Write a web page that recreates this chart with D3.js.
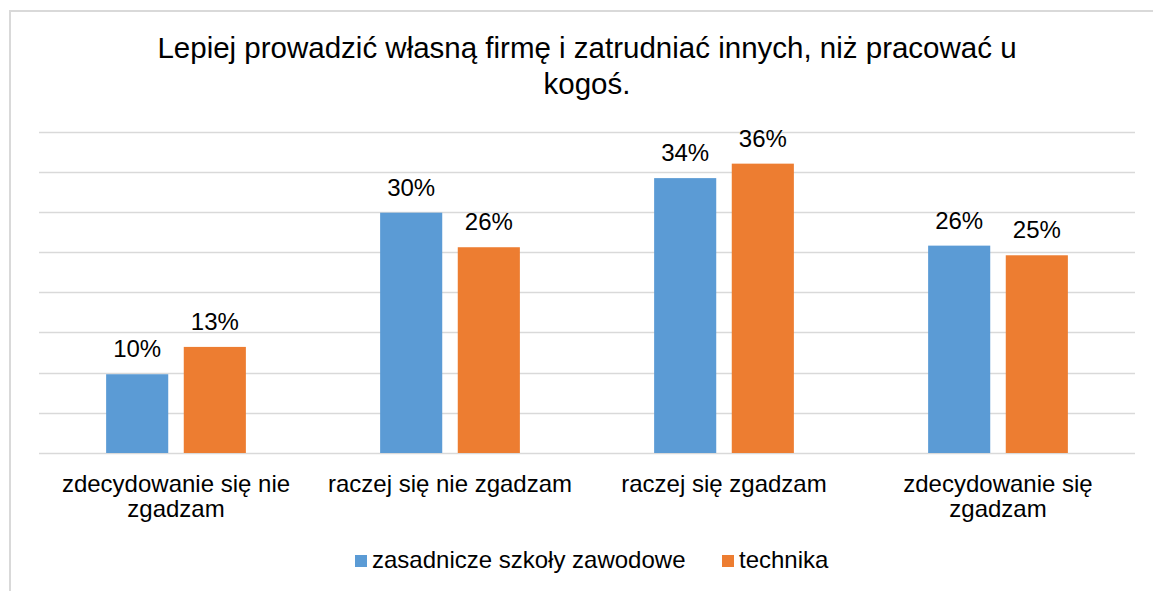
<!DOCTYPE html>
<html>
<head>
<meta charset="utf-8">
<script src="https://cdn.jsdelivr.net/npm/d3@7"></script>
<style>
  body { margin: 0; background: #fff; }
  text { font-family: "Liberation Sans", Arial, sans-serif; fill: #000; }
</style>
</head>
<body>
<div id="chart"></div>
<script>
// data
const TITLE_LINES = ['Lepiej prowadzić własną firmę i zatrudniać innych, niż pracować u', 'kogoś.'];
const categories = ['zdecydowanie się nie zgadzam', 'raczej się nie zgadzam', 'raczej się zgadzam', 'zdecydowanie się zgadzam'];
const seriesNames = ['zasadnicze szkoły zawodowe', 'technika'];
const zasadnicze = [9.8, 29.9, 34.2, 25.8];
const technika = [13.2, 25.6, 36.0, 24.6];
const yTicks = [0, 5, 10, 15, 20, 25, 30, 35, 40];
const COLORS = ['#5B9BD5', '#ED7D31'];

const width = 1153;
const height = 591;
const margin = { top: 131.5, right: 18, bottom: 138, left: 39 };
const FONT = '24px';

const svg = d3.select('#chart')
  .append('svg')
  .attr('width', width)
  .attr('height', height);

// chart frame (cut off at right and bottom)
svg.append('rect')
  .attr('x', 10)
  .attr('y', 11)
  .attr('width', 1300)
  .attr('height', 800)
  .attr('fill', 'none')
  .attr('stroke', '#d9d9d9')
  .attr('stroke-width', 2);

svg.append('text')
  .attr('class', 'title')
  .attr('text-anchor', 'middle')
  .style('font-size', '29.5px')
  .selectAll('tspan')
  .data(TITLE_LINES)
  .join('tspan')
  .attr('x', 587)
  .attr('y', (d, i) => 58 + i * 36)
  .text((d) => d);

const x0 = d3.scaleBand()
  .domain(categories)
  .range([margin.left, width - margin.right])
  .paddingInner(0.49)
  .paddingOuter(0.245);

const x1 = d3.scaleBand()
  .domain(seriesNames)
  .range([0, x0.bandwidth()])
  .paddingInner(0.2);

const y = d3.scaleLinear()
  .domain([0, 40])
  .range([height - margin.bottom, margin.top]);

// gridlines
svg.append('g')
  .attr('class', 'grid')
  .selectAll('line')
  .data(yTicks)
  .join('line')
  .attr('x1', margin.left)
  .attr('x2', width - margin.right)
  .attr('y1', (d) => Math.round(y(d)) + 0.5)
  .attr('y2', (d) => Math.round(y(d)) + 0.5)
  .attr('stroke', '#d9d9d9')
  .attr('stroke-width', 1.5);

const rows = categories.map((c, i) => ({
  category: c,
  values: [zasadnicze[i], technika[i]],
}));

const groups = svg.append('g')
  .attr('class', 'bars')
  .selectAll('g')
  .data(rows)
  .join('g')
  .attr('transform', (d) => `translate(${x0(d.category)},0)`);

groups.selectAll('rect')
  .data((d) => d.values.map((v, j) => ({ key: seriesNames[j], value: v, j })))
  .join('rect')
  .attr('x', (d) => x1(d.key))
  .attr('y', (d) => y(d.value))
  .attr('width', x1.bandwidth())
  .attr('height', (d) => y(0) - y(d.value))
  .attr('fill', (d) => COLORS[d.j]);

groups.selectAll('text')
  .data((d) => d.values.map((v, j) => ({ key: seriesNames[j], value: v })))
  .join('text')
  .attr('x', (d) => x1(d.key) + x1.bandwidth() / 2)
  .attr('y', (d) => y(d.value) - 17)
  .attr('text-anchor', 'middle')
  .style('font-size', FONT)
  .text((d) => `${Math.round(d.value)}%`);

// category axis labels, wrapped like the original
function wrapWords(str, maxWidth, fontSize) {
  const probe = svg.append('text').style('font-size', fontSize);
  const words = str.split(' ');
  const lines = [];
  let line = [];
  words.forEach((w) => {
    const test = [...line, w].join(' ');
    probe.text(test);
    if (line.length && probe.node().getComputedTextLength() > maxWidth) {
      lines.push(line.join(' '));
      line = [w];
    } else {
      line.push(w);
    }
  });
  lines.push(line.join(' '));
  probe.remove();
  return lines;
}

svg.append('g')
  .attr('class', 'axis-x')
  .selectAll('text')
  .data(categories)
  .join('text')
  .attr('text-anchor', 'middle')
  .style('font-size', FONT)
  .each(function (d) {
    const lines = wrapWords(d, 262, FONT);
    d3.select(this).selectAll('tspan')
      .data(lines)
      .join('tspan')
      .attr('x', x0(d) + x0.bandwidth() / 2)
      .attr('y', (l, i) => 492 + i * 25)
      .text((l) => l);
  });

// legend
const legend = svg.append('g').attr('class', 'legend');
const legendX = [355, 722];
const legendItems = legend.selectAll('g')
  .data(seriesNames)
  .join('g')
  .attr('transform', (d, i) => `translate(${legendX[i]},555)`);

legendItems.append('rect')
  .attr('width', 12)
  .attr('height', 12)
  .attr('fill', (d, i) => COLORS[i]);

legendItems.append('text')
  .attr('x', 17)
  .attr('y', 13)
  .style('font-size', FONT)
  .text((d) => d);
</script>
</body>
</html>
